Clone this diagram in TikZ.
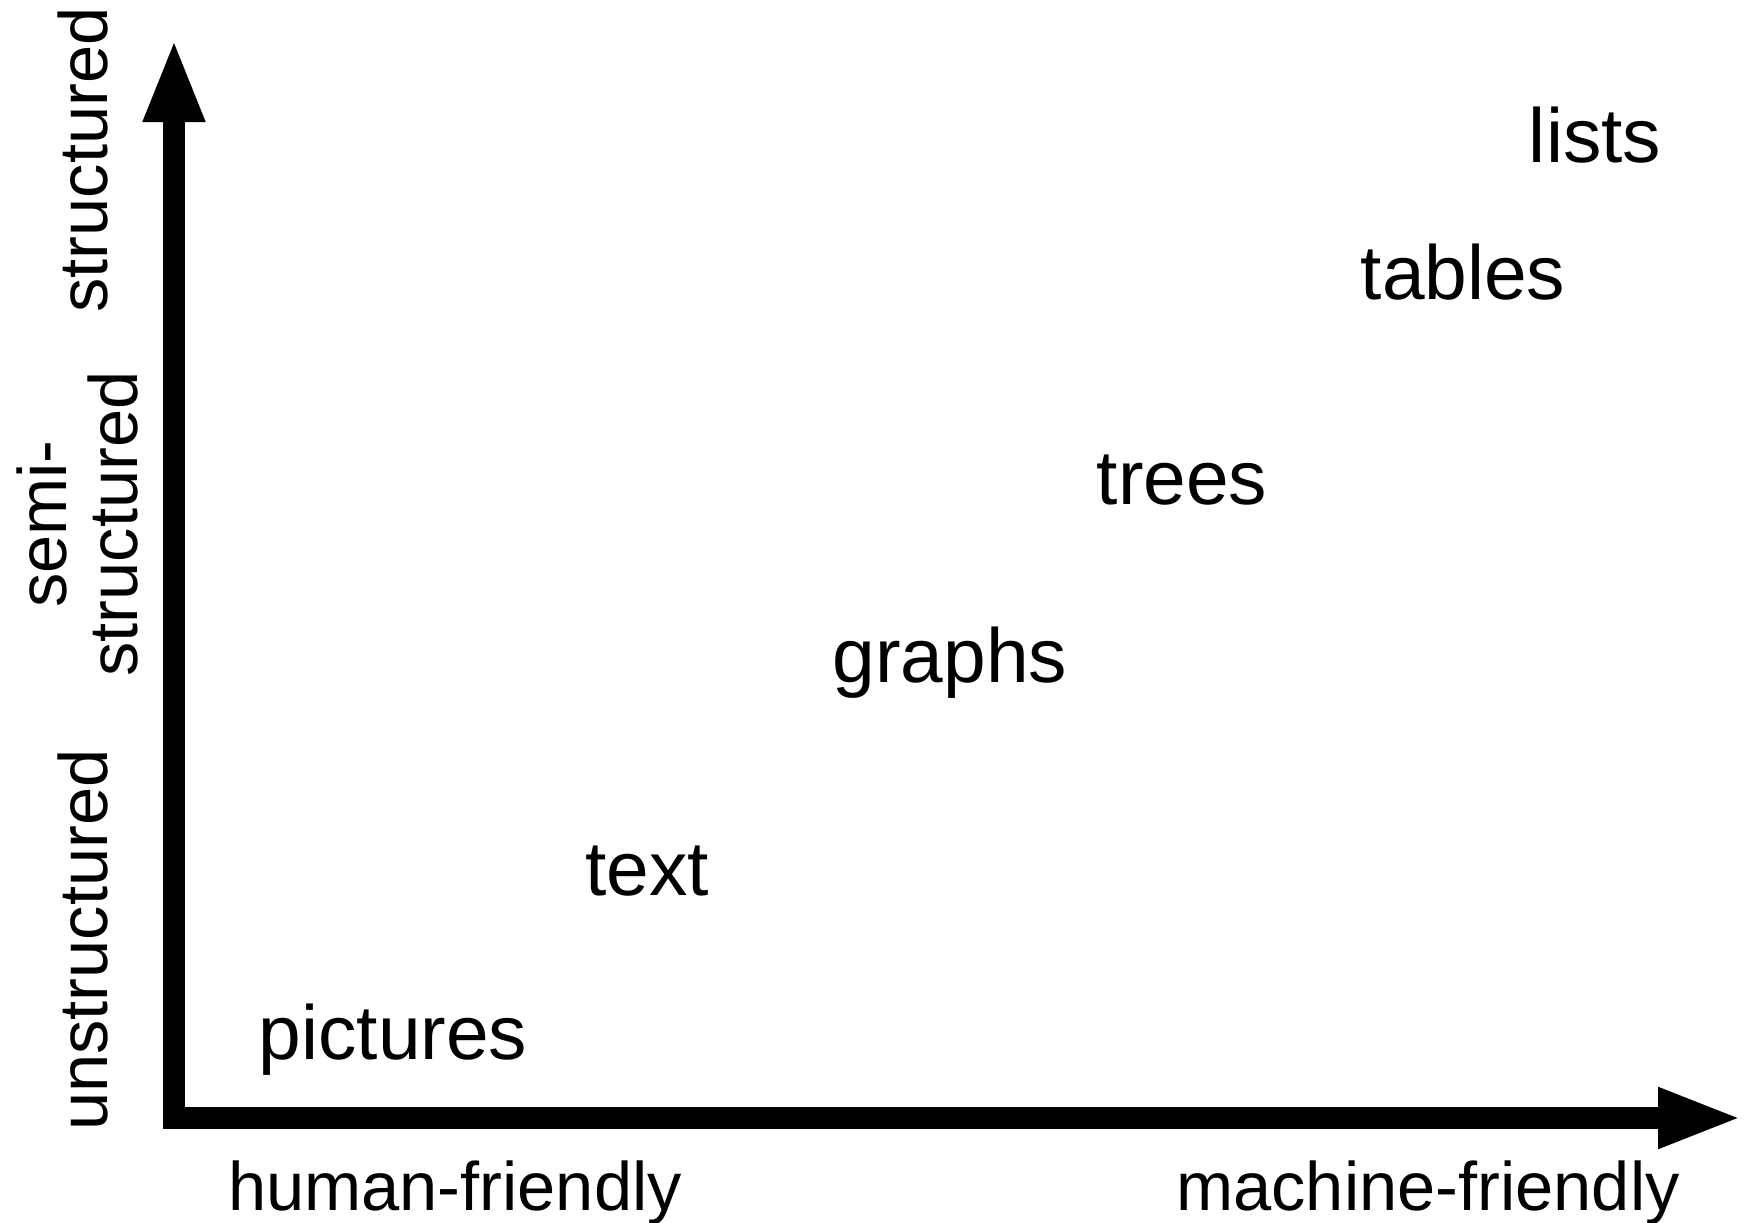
\documentclass[tikz,border=0pt]{standalone}
\usepackage{fontspec}
\setmainfont{Liberation Sans}
\usetikzlibrary{arrows.meta}
\begin{document}
\begin{tikzpicture}[x=1pt,y=-1pt,
  lbl/.style={font=\fontsize{68.6}{71}\selectfont, inner sep=0pt, anchor=base},
  item/.style={lbl, font=\fontsize{76.7}{80}\selectfont},
  vlbl/.style={lbl, rotate=90, align=center},
  axis/.style={line width=22pt, line join=miter,
    {Triangle[length=84pt,width=56pt]}-{Triangle[length=85pt,width=55pt]}}]
\useasboundingbox (0,0) rectangle (1748,1223);
\coordinate (ytip) at (174,38);
\coordinate (orig) at (174,1118);
\coordinate (xtip) at (1743,1118);
\draw[axis] (ytip) -- (orig) -- (xtip);
\node[item] (lists) at (1595,162) {lists};
\node[item] (tables) at (1463,299) {tables};
\node[item] (trees) at (1182,504) {trees};
\node[item] (graphs) at (950,682) {graphs};
\node[item] (text) at (647,895) {text};
\node[item] (pictures) at (393,1059) {pictures};
\node[lbl] (human) at (455,1210) {human-friendly};
\node[lbl] (machine) at (1428,1210) {machine-friendly};
\node[vlbl] (structured) at (107,160) {structured};
\node[vlbl] (semi) at (137,524) {semi-\\structured};
\node[vlbl] (unstructured) at (107,940) {unstructured};
\end{tikzpicture}
\end{document}
